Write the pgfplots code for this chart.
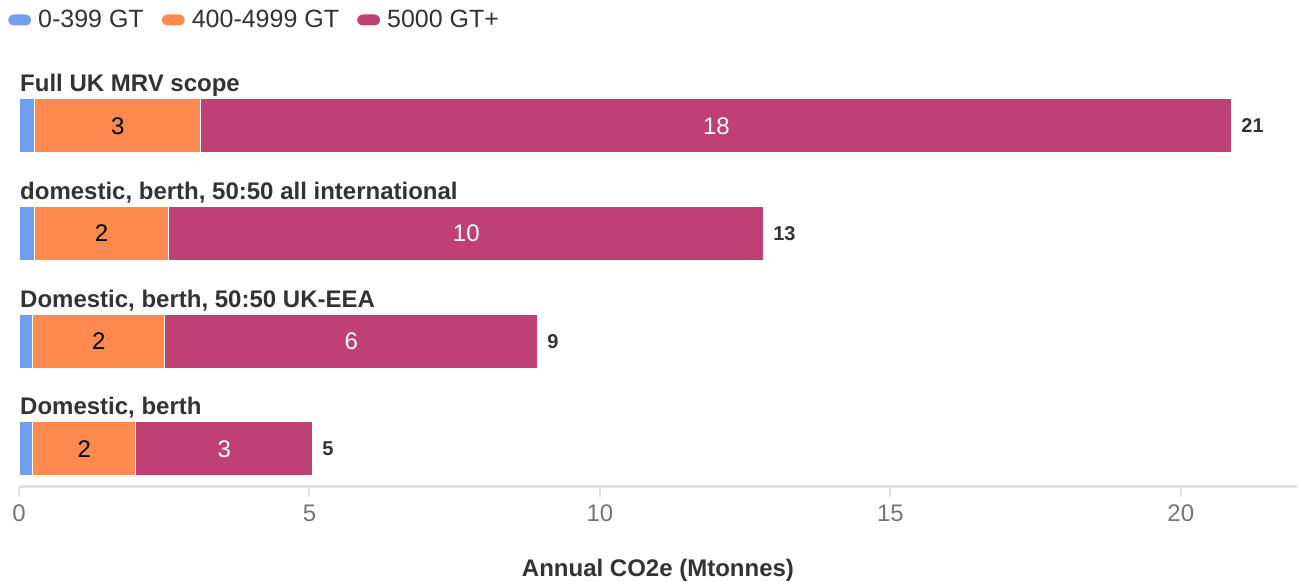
\documentclass[border=0pt]{standalone}
\usepackage{fontspec}
\setmainfont{Liberation Sans}
\usepackage{pgfplots}
\usepackage{pgfplotstable}
\pgfplotsset{compat=1.18}

\definecolor{sBlue}{HTML}{6F9FEE}
\definecolor{sOrange}{HTML}{FF8A50}
\definecolor{sPlum}{HTML}{BF4073}
\definecolor{txt}{HTML}{333333}
\definecolor{ticktxt}{HTML}{757575}
\definecolor{rulegray}{HTML}{E2E2E2}

% Annual CO2e (Mtonnes) by ship size band, one row per scope
\pgfplotstableread{
pos small medium large
3 0.27 2.86 17.75
2 0.26 2.32 10.24
1 0.24 2.27 6.42
0 0.24 1.77 3.05
}\emissions

\pgfplotsset{
  frame/.style={scale only axis, width=1278pt, height=417pt,
    xmin=0, xmax=22, ymin=-0.353, ymax=3.519,
    at={(19pt,96pt)}, anchor=south west, clip=false,
    /pgf/number format/assume math mode=true},
  pill legend/.style={legend image code/.code={%
    \fill[##1, rounded corners=6pt] (0pt,-6pt) rectangle (24pt,6pt);}},
}
\tikzset{catlabel/.style={anchor=base west, inner sep=0pt, xshift=1pt,
    font=\bfseries\fontsize{24}{28}\selectfont, text=txt}}

\begin{document}
\begin{tikzpicture}
\useasboundingbox (0,0) rectangle (1298pt,583pt);
\begin{axis}[frame,
  xbar stacked, bar width=54pt,
  axis y line=none, axis x line*=bottom,
  axis line style={rulegray, line width=3pt},
  xtick={0,5,10,15,20}, tick align=outside, major tick length=10pt,
  xtick style={rulegray, line width=2pt},
  xticklabel style={font=\fontsize{24}{28}\selectfont, text=ticktxt, yshift=-4pt},
  xlabel={Annual CO2e (Mtonnes)},
  xlabel style={at={(axis description cs:0.5,0)}, anchor=center,
    yshift=-83pt, font=\bfseries\fontsize{24}{28}\selectfont, text=txt},
  legend columns=3,
  legend style={draw=none, fill=none, at={(axis description cs:0,1)}, anchor=west,
    xshift=-12pt, yshift=50pt, inner sep=0pt,
    font=\fontsize{25}{30}\selectfont, text=txt,
    /tikz/every odd column/.append style={column sep=4pt},
    /tikz/every even column/.append style={column sep=15pt}},
  legend cell align=left,
  pill legend,
]
\addplot[fill=sBlue, draw=white, line width=1pt] table[x=small, y=pos]{\emissions};
\addlegendentry{0-399 GT}
\addplot[fill=sOrange, draw=white, line width=1pt] table[x=medium, y=pos]{\emissions};
\addlegendentry{400-4999 GT}
\addplot[fill=sPlum, draw=white, line width=1pt] table[x=large, y=pos]{\emissions};
\addlegendentry{5000 GT+}

\node[catlabel] at (axis cs:0,3.316) {Full UK MRV scope};
\node[catlabel] at (axis cs:0,2.316) {domestic, berth, 50:50 all international};
\node[catlabel] at (axis cs:0,1.316) {Domestic, berth, 50:50 UK-EEA};
\node[catlabel] at (axis cs:0,0.316) {Domestic, berth};
\end{axis}

% value labels on the segments and at the bar ends
\begin{axis}[frame, hide axis,
  nodes near coords={\pgfmathprintnumber[fixed,precision=0]{\pgfplotspointmeta}},
  point meta=explicit]
\addplot[draw=none, every node near coord/.style={anchor=center,
    font=\fontsize{24}{28}\selectfont, text=black}]
  table[x expr=\thisrow{small}+\thisrow{medium}/2, y=pos, meta=medium]{\emissions};
\addplot[draw=none, every node near coord/.style={anchor=center,
    font=\fontsize{24}{28}\selectfont, text=white}]
  table[x expr=\thisrow{small}+\thisrow{medium}+\thisrow{large}/2, y=pos, meta=large]{\emissions};
\addplot[draw=none, every node near coord/.style={anchor=west, xshift=6pt,
    font=\bfseries\fontsize{20}{24}\selectfont, text=txt}]
  table[x expr=\thisrow{small}+\thisrow{medium}+\thisrow{large}, y=pos,
        meta expr=\thisrow{small}+\thisrow{medium}+\thisrow{large}]{\emissions};
\end{axis}
\end{tikzpicture}
\end{document}
